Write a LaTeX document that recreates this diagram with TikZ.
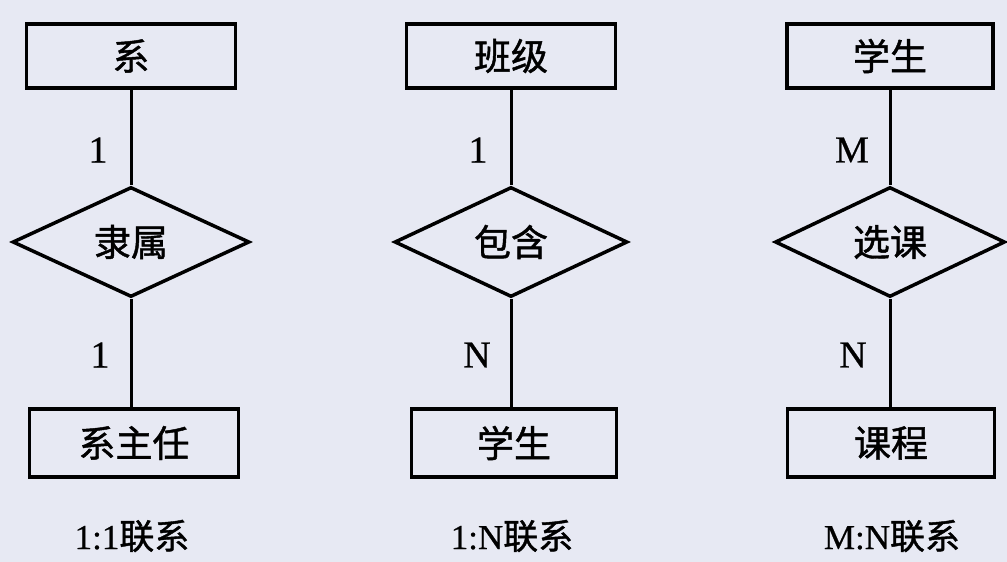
\documentclass[tikz,border=0pt]{standalone}
\usepackage{fontspec}
\setmainfont[FakeBold=0.6]{Liberation Serif}
\newfontfamily\cjk[FakeBold=1.2]{Noto Sans CJK SC}
\usetikzlibrary{shapes.geometric}
\definecolor{bg}{HTML}{E7E9F3}
\tikzset{
  ent/.style={draw, line width=3.5pt, minimum width=209pt, minimum height=64pt, inner sep=0pt, font=\cjk\fontsize{37}{37}\selectfont},
  rel/.style={draw, diamond, aspect=2.15, line width=3.5pt, inner sep=0pt, font=\cjk\fontsize{37}{37}\selectfont},
  card/.style={font=\fontsize{38}{38}\selectfont},
  captiontext/.style={font=\fontsize{35}{35}\selectfont},
  conn/.style={line width=3pt},
}
\begin{document}
\begin{tikzpicture}[x=1pt,y=-1pt]
\fill[bg] (0,0) rectangle (1007,562);
\useasboundingbox (0,0) rectangle (1007,562);
% column 1
\node[ent] (a1) at (131,56) {系};
\node[rel, minimum width=237pt, minimum height=110pt] (r1) at (131,242) {隶属};
\node[ent, minimum height=68pt] (b1) at (134,443) {系主任};
\draw[conn] (a1.south) -- (r1.north);
\draw[conn] (r1.south) -- (b1.north -| r1.south);
\node[card] (c1a) at (98,150) {1};
\node[card] (c1b) at (100,355) {1};
\node[captiontext] (t1) at (132,536) {1:1{\cjk 联系}};
% column 2
\node[ent] (a2) at (511,56) {班级};
\node[rel, minimum width=233pt, minimum height=110pt] (r2) at (511,242) {包含};
\node[ent, minimum width=205pt, minimum height=68pt] (b2) at (514,443) {学生};
\draw[conn] (a2.south) -- (r2.north);
\draw[conn] (r2.south) -- (b2.north -| r2.south);
\node[card] (c2a) at (478,150) {1};
\node[card] (c2b) at (477,355) {N};
\node[captiontext] (t2) at (512,536) {1:N{\cjk 联系}};
% column 3
\node[ent, minimum width=206pt] (a3) at (890,56) {学生};
\node[rel, minimum width=230pt, minimum height=110pt] (r3) at (890,242) {选课};
\node[ent, minimum width=207pt, minimum height=68pt] (b3) at (891,443) {课程};
\draw[conn] (a3.south) -- (r3.north);
\draw[conn] (r3.south) -- (b3.north -| r3.south);
\node[card] (c3a) at (852,150) {M};
\node[card] (c3b) at (853,355) {N};
\node[captiontext] (t3) at (892,536) {M:N{\cjk 联系}};
\end{tikzpicture}
\end{document}
